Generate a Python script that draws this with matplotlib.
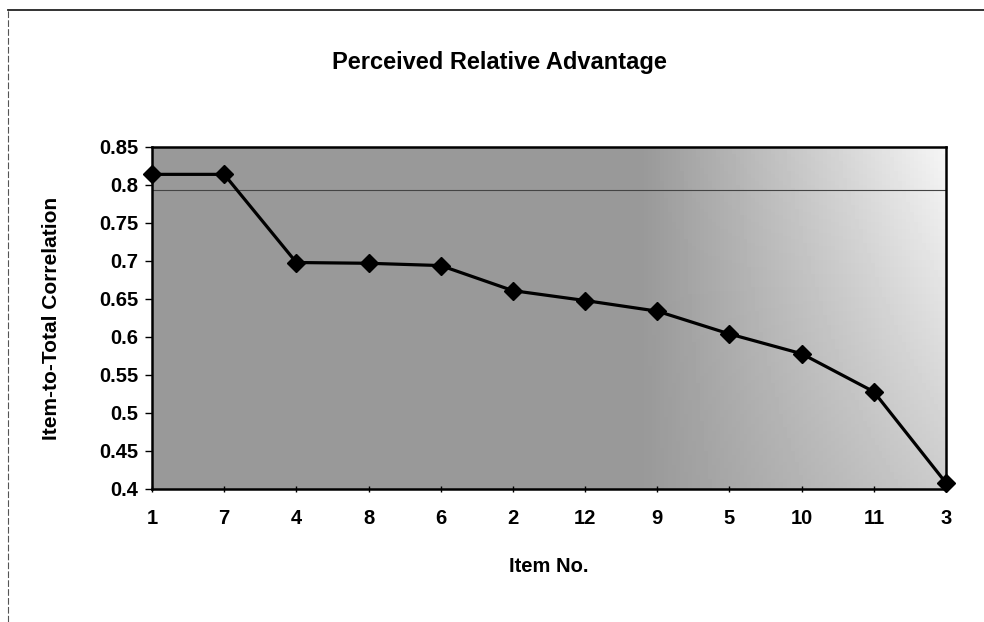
import matplotlib
matplotlib.use("Agg")
import matplotlib.pyplot as plt
from matplotlib.lines import Line2D
import numpy as np

plt.rcParams["font.family"] = ["Liberation Sans", "DejaVu Sans"]
plt.rcParams["font.weight"] = "bold"

items = ["1", "7", "4", "8", "6", "2", "12", "9", "5", "10", "11", "3"]
corr = [0.814, 0.814, 0.698, 0.697, 0.694, 0.661, 0.648, 0.634, 0.604, 0.578, 0.528, 0.408]
y_ticks = [0.4, 0.45, 0.5, 0.55, 0.6, 0.65, 0.7, 0.75, 0.8, 0.85]
y_tick_labels = ["0.4", "0.45", "0.5", "0.55", "0.6", "0.65", "0.7", "0.75", "0.8", "0.85"]
faint_line = 0.793  # scanned horizontal streak across the plot

W, H = 984, 622
fig = plt.figure(figsize=(W / 100, H / 100), dpi=100)
fig.patch.set_facecolor("white")
ax = fig.add_axes([152 / W, 1 - 489 / H, (946 - 152) / W, (489 - 147) / H])

x = np.arange(len(items))

# stippled grey background: dark over most of the area, fading out to the right
gx = np.linspace(0, 1, 200)
gy = np.linspace(0, 1, 100)
GX, GY = np.meshgrid(gx, gy)
fade = np.clip((GX - 0.62) / 0.38, 0, 1) * (0.55 + 0.45 * GY)
shade = 0.6 + 0.36 * fade
ax.imshow(shade, cmap="gray", vmin=0, vmax=1, aspect="auto",
          extent=[x[0], x[-1], 0.85, 0.4], origin="upper", zorder=0)

ax.axhline(faint_line, color="#444444", lw=0.8, zorder=1)
ax.plot(x, corr, color="black", lw=2.3, marker="D", ms=9,
        mfc="black", mec="black", zorder=3, clip_on=False)

ax.set_xlim(x[0], x[-1])
ax.set_ylim(0.4, 0.85)
ax.set_xticks(x)
ax.set_xticklabels(items, fontsize=14.5, fontweight="bold")
ax.set_yticks(y_ticks)
ax.set_yticklabels(y_tick_labels, fontsize=14.5, fontweight="bold")
ax.tick_params(axis="y", direction="out", length=5, width=1, pad=5)
ax.tick_params(axis="x", direction="inout", length=5, width=1, pad=12)
for s in ax.spines.values():
    s.set_color("black")
    s.set_linewidth(1.8)

fig.text(499 / W, 1 - 62 / H, "Perceived Relative Advantage", fontsize=17,
         fontweight="bold", ha="center", va="center")
fig.text(549 / W, 1 - 567 / H, "Item No.", fontsize=14.5, fontweight="bold",
         ha="center", va="center")
fig.text(52 / W, 1 - 318 / H, "Item-to-Total Correlation", fontsize=15,
         fontweight="bold", ha="center", va="center", rotation=90)

# scanned chart border: solid top edge, broken left edge
fig.add_artist(Line2D([8 / W, 1], [1 - 10 / H, 1 - 10 / H], color="#222222", lw=1.3))
fig.add_artist(Line2D([8 / W, 8 / W], [0, 1 - 10 / H], color="#555555", lw=0.8,
                      ls=(0, (6, 2))))

fig.savefig("out.png", dpi=100)
